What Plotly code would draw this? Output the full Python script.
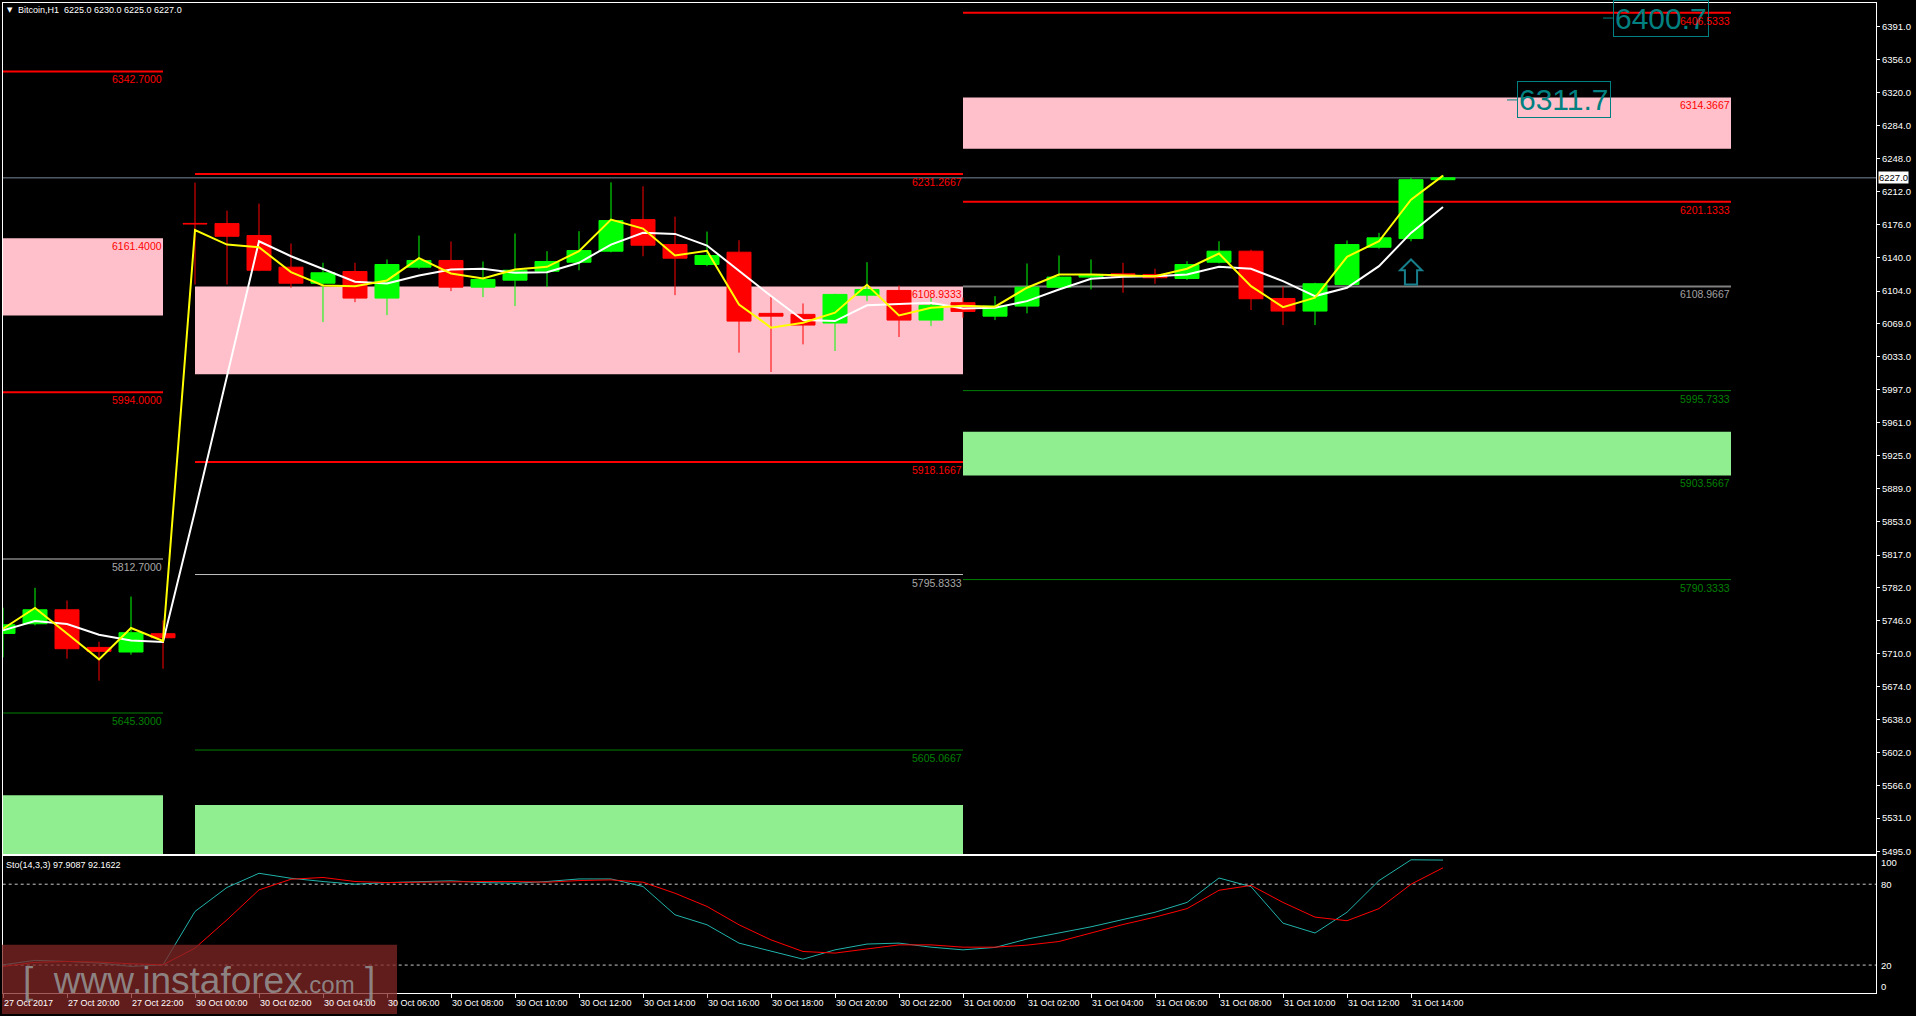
import plotly.graph_objects as go

# ---------------- data ----------------
bar_index = list(range(46))

candle_open = [5731.8, 5742.3, 5757.5, 5716.6, 5711.6, 5731.5, 6177.5, 6177.3, 6164.3, 6129.9,
               6112.5, 6125.2, 6096.3, 6129.9, 6137.2, 6108.2, 6115.8, 6125.5, 6135.3, 6147.3,
               6181.6, 6154.5, 6132.8, 6146.2, 6079.7, 6078.6, 6069.2, 6099.5, 6104.6, 6072.4,
               6091.3, 6076.7, 6087.6, 6108.2, 6119.1, 6122.7, 6122.0, 6117.6, 6135.3, 6147.3,
               6095.9, 6082.2, 6111.1, 6151.6, 6161.0, 6225.0]
candle_high = [5759.7, 5781.4, 5767.6, 5722.8, 5771.9, 5745.9, 6221.8, 6191.4, 6199.0, 6155.6,
               6134.7, 6134.7, 6138.3, 6164.3, 6157.8, 6136.1, 6166.5, 6147.3, 6169.0, 6222.1,
               6217.8, 6184.9, 6168.6, 6159.2, 6098.4, 6090.5, 6101.0, 6135.3, 6110.0, 6097.0,
               6097.0, 6098.4, 6133.9, 6142.6, 6138.3, 6134.7, 6128.2, 6136.4, 6158.1, 6149.0,
               6108.6, 6113.0, 6158.9, 6167.2, 6227.0, 6230.0]
candle_low = [5705.8, 5740.5, 5704.4, 5680.5, 5708.7, 5693.5, 6111.1, 6111.1, 6125.5, 6107.6,
              6070.2, 6091.9, 6077.8, 6128.0, 6103.9, 6097.4, 6087.6, 6108.2, 6126.6, 6146.0,
              6141.8, 6099.5, 6131.0, 6037.0, 6016.0, 6046.0, 6038.8, 6093.0, 6054.0, 6065.9,
              6075.0, 6072.4, 6079.7, 6107.0, 6105.7, 6102.1, 6111.9, 6116.0, 6134.0, 6083.3,
              6067.0, 6067.0, 6110.0, 6150.0, 6158.0, 6225.0]
candle_close = [5741.2, 5757.5, 5715.2, 5712.3, 5732.6, 5727.1, 6177.0, 6163.5, 6126.6, 6112.5,
                6123.8, 6096.3, 6132.8, 6137.2, 6108.2, 6116.6, 6126.6, 6136.1, 6148.0, 6180.6,
                6153.8, 6139.7, 6142.6, 6071.3, 6076.7, 6067.0, 6100.3, 6105.7, 6072.4, 6088.4,
                6081.8, 6087.6, 6108.2, 6119.1, 6122.0, 6120.1, 6118.4, 6132.8, 6147.3, 6095.6,
                6082.2, 6111.9, 6154.5, 6161.8, 6225.0, 6227.0]

ma_fast = [5736.9, 5759.4, 5731.8, 5703.6, 5737.7, 5723.6, 6170.3, 6154.5, 6151.6, 6124.5,
           6110.1, 6109.3, 6115.5, 6139.7, 6123.1, 6117.6, 6127.4, 6130.3, 6147.3, 6181.6,
           6171.9, 6142.6, 6147.7, 6089.4, 6064.2, 6069.6, 6080.4, 6110.8, 6077.5, 6085.9,
           6088.0, 6087.0, 6107.6, 6122.0, 6122.0, 6120.9, 6120.1, 6128.2, 6144.8, 6109.3,
           6086.5, 6096.7, 6141.2, 6158.1, 6203.3, 6229.4]
ma_slow = [5735.1, 5745.2, 5742.0, 5730.4, 5724.2, 5722.5, 5864.9, 6011.3, 6158.1, 6141.8,
           6128.2, 6114.1, 6112.2, 6120.9, 6127.4, 6128.2, 6123.8, 6124.5, 6134.7, 6154.5,
           6167.2, 6166.1, 6153.4, 6125.6, 6098.5, 6072.4, 6071.3, 6088.4, 6090.2, 6091.3,
           6085.1, 6085.9, 6093.0, 6105.7, 6117.3, 6119.5, 6120.1, 6122.0, 6130.3, 6128.2,
           6114.7, 6098.5, 6107.6, 6131.0, 6167.2, 6195.4]

sto_main = [20.2, 23.5, 22.7, 21.5, 19.0, 20.2, 59.8, 77.6, 88.1, 84.4,
            82.0, 80.0, 81.2, 82.0, 82.5, 81.2, 80.7, 82.0, 83.9, 83.9,
            78.3, 57.3, 49.9, 36.3, 30.1, 24.4, 31.3, 35.6, 36.3, 33.3,
            31.3, 33.1, 39.3, 43.8, 48.4, 53.8, 59.2, 66.5, 84.6, 78.2,
            51.1, 43.8, 59.2, 82.7, 98.1, 97.9087]
sto_signal = [19.0, 22.0, 22.7, 22.2, 21.0, 20.2, 32.6, 53.6, 75.8, 83.7,
              85.0, 82.0, 81.2, 81.5, 82.0, 82.0, 82.0, 81.5, 82.7, 83.2,
              81.5, 73.3, 63.5, 49.9, 38.7, 30.1, 28.9, 31.9, 35.0, 35.0,
              33.3, 33.3, 34.8, 37.5, 43.8, 50.1, 55.6, 61.9, 75.5, 79.1,
              66.5, 55.6, 52.9, 61.9, 80.0, 92.1622]
sto_levels = [80, 20]
sto_tick_values = [100, 80, 20, 0]

price_ticks = [6391, 6356, 6320, 6284, 6248, 6212, 6176, 6140, 6104, 6069, 6033, 5997, 5961,
               5925, 5889, 5853, 5817, 5782, 5746, 5710, 5674, 5638, 5602, 5566, 5531, 5495]

time_tick_bars = [0, 2, 4, 6, 8, 10, 12, 14, 16, 18, 20, 22, 24, 26, 28, 30, 32, 34, 36, 38, 40, 42, 44]
time_tick_labels = ["27 Oct 2017", "27 Oct 20:00", "27 Oct 22:00",
                    "30 Oct 00:00", "30 Oct 02:00", "30 Oct 04:00", "30 Oct 06:00", "30 Oct 08:00",
                    "30 Oct 10:00", "30 Oct 12:00", "30 Oct 14:00", "30 Oct 16:00", "30 Oct 18:00",
                    "30 Oct 20:00", "30 Oct 22:00",
                    "31 Oct 00:00", "31 Oct 02:00", "31 Oct 04:00", "31 Oct 06:00", "31 Oct 08:00",
                    "31 Oct 10:00", "31 Oct 12:00", "31 Oct 14:00"]

# section spans (bar index from, to)
section_start = {"L": -19, "M": 6, "R": 30}
section_end = {"L": 5, "M": 30, "R": 54}

level_prices = [6342.7, 5994.0, 5812.7, 5645.3,
                6231.2667, 5918.1667, 5795.8333, 5605.0667,
                6406.5333, 6201.1333, 6108.9667, 5995.7333, 5790.3333]
level_kinds = ["red", "red", "silver", "green",
               "red", "red", "silver", "green",
               "red", "red", "gray", "green", "green"]
level_sections = ["L", "L", "L", "L", "M", "M", "M", "M", "R", "R", "R", "R", "R"]

zone_top = [6161.4, 6108.9333, 6314.3667, 5555.8, 5545.4, 5951.0]
zone_bottom = [6077.5, 6013.5, 6258.7, 5480.0, 5480.0, 5903.5667]
zone_kinds = ["pink", "pink", "pink", "green", "green", "green"]
zone_sections = ["L", "M", "R", "L", "M", "R"]
zone_label_edge = ["top", "top", "top", None, None, "bottom"]

big_label_values = [6400.7, 6311.7]
big_label_bars = [50, 47]

arrow_bar = 44
arrow_tip, arrow_head_base, arrow_bottom = 6138.3, 6126.6, 6111.1

# ---------------- layout geometry ----------------
W, H = 1916, 1016
X_LEFT_PX, X_RIGHT_PX = 2.7, 1876.0
BAR0_PX, BAR_PX = 3.0, 32.0
x_range = [(X_LEFT_PX - BAR0_PX) / BAR_PX, (X_RIGHT_PX - BAR0_PX) / BAR_PX]
x_domain = [X_LEFT_PX / W, X_RIGHT_PX / W]
main_domain = [1 - 856 / H, 1 - 2.7 / H]
sto_domain = [1 - 995 / H, 1 - 858 / H]
main_range = [5491.7, 6417.4]
sto_range = [-0.74, 100.7]

FONT = "Liberation Sans"
line_color = {"red": "#FF0000", "silver": "#C0C0C0", "gray": "#808080", "green": "#008000"}
line_width = {"red": 2, "silver": 1, "gray": 2, "green": 1}
label_color = {"red": "#FF0000", "silver": "#A8A8A8", "gray": "#A0A0A0", "green": "#008000"}
zone_fill = {"pink": "#FFC0CB", "green": "#90EE90"}
zone_label_color = {"pink": "#FF0000", "green": "#008000"}
TEAL = "#008080"

fig = go.Figure()

fig.add_trace(go.Candlestick(
    x=bar_index, open=candle_open, high=candle_high, low=candle_low, close=candle_close,
    increasing=dict(line=dict(color="#00FF00", width=1), fillcolor="#00FF00"),
    decreasing=dict(line=dict(color="#FF0000", width=1), fillcolor="#FF0000"),
    xaxis="x", yaxis="y", hoverinfo="skip", showlegend=False))
fig.add_trace(go.Scatter(x=bar_index, y=ma_slow, mode="lines",
                         line=dict(color="#FFFFFF", width=2), xaxis="x", yaxis="y", hoverinfo="skip"))
fig.add_trace(go.Scatter(x=bar_index, y=ma_fast, mode="lines",
                         line=dict(color="#FFFF00", width=2), xaxis="x", yaxis="y", hoverinfo="skip"))
fig.add_trace(go.Scatter(x=bar_index, y=sto_main, mode="lines",
                         line=dict(color="#20B2AA", width=1), xaxis="x2", yaxis="y2", hoverinfo="skip"))
fig.add_trace(go.Scatter(x=bar_index, y=sto_signal, mode="lines",
                         line=dict(color="#FF0000", width=1), xaxis="x2", yaxis="y2", hoverinfo="skip"))

shapes = []
annotations = []

# zones
for top, bot, kind, sec, edge in zip(zone_top, zone_bottom, zone_kinds, zone_sections, zone_label_edge):
    shapes.append(dict(type="rect", xref="x", yref="y", x0=section_start[sec], x1=section_end[sec],
                       y0=bot, y1=top, fillcolor=zone_fill[kind], line=dict(width=0), layer="below"))
    if edge is not None:
        val = top if edge == "top" else bot
        annotations.append(dict(xref="x", yref="y", x=section_end[sec], y=val, xanchor="right",
                                yanchor="top", yshift=-1, text=f"{val:.4f}", showarrow=False,
                                borderpad=0, font=dict(family=FONT, size=10.5,
                                                       color=zone_label_color[kind])))

# level lines
late_annotations = []
for price, kind, sec in zip(level_prices, level_kinds, level_sections):
    shapes.append(dict(type="line", xref="x", yref="y", x0=section_start[sec], x1=section_end[sec],
                       y0=price, y1=price, line=dict(color=line_color[kind], width=line_width[kind]),
                       layer="below"))
    ann = dict(xref="x", yref="y", x=section_end[sec], y=price, xanchor="right",
               yanchor="top", yshift=-1, text=f"{price:.4f}", showarrow=False,
               borderpad=0, font=dict(family=FONT, size=10.5, color=label_color[kind]))
    # the topmost right-hand label is drawn over the big price box
    if price == max(level_prices):
        late_annotations.append(ann)
    else:
        annotations.append(ann)

# bid line
bid = candle_close[-1]
shapes.append(dict(type="line", xref="paper", yref="y", x0=x_domain[0], x1=x_domain[1],
                   y0=bid, y1=bid, line=dict(color="#778899", width=1), layer="below"))
annotations.append(dict(xref="paper", yref="y", x=(X_RIGHT_PX + 2) / W, y=bid, xanchor="left",
                        yanchor="middle", text=f"{bid:.1f}", showarrow=False, bgcolor="#FFFFFF",
                        borderpad=0, font=dict(family=FONT, size=9.5, color="#000000")))

# big price labels
for val, b in zip(big_label_values, big_label_bars):
    shapes.append(dict(type="line", xref="x", yref="y", x0=b, x1=b + 0.31, y0=val, y1=val,
                       line=dict(color=TEAL, width=1)))
    annotations.append(dict(xref="x", yref="y", x=b + 0.31, y=val, xanchor="left", yanchor="middle",
                            text=f"{val:.1f}", showarrow=False, bordercolor=TEAL, borderwidth=1,
                            borderpad=1, font=dict(family=FONT, size=30, color=TEAL)))
annotations += late_annotations

# up arrow
hw, sw = 0.34, 0.19
ax = arrow_bar
path = (f"M {ax - sw},{arrow_bottom} L {ax + sw},{arrow_bottom} L {ax + sw},{arrow_head_base} "
        f"L {ax + hw},{arrow_head_base} L {ax},{arrow_tip} L {ax - hw},{arrow_head_base} "
        f"L {ax - sw},{arrow_head_base} Z")
shapes.append(dict(type="path", xref="x", yref="y", path=path,
                   line=dict(color="#17808C", width=2), fillcolor="rgba(0,0,0,0)"))

# stochastic levels
for lv in sto_levels:
    shapes.append(dict(type="line", xref="paper", yref="y2", x0=x_domain[0], x1=x_domain[1],
                       y0=lv, y1=lv, line=dict(color="#C8C8C8", width=1, dash="3px,3px"),
                       layer="below"))
sto_label_shift = {100: -5, 80: 0, 20: 0, 0: 6}
for v in sto_tick_values:
    annotations.append(dict(xref="paper", yref="y2", x=(X_RIGHT_PX + 4) / W, y=v, xanchor="left",
                            yanchor="middle", yshift=sto_label_shift[v], text=str(v),
                            showarrow=False, borderpad=0,
                            font=dict(family=FONT, size=9.5, color="#FFFFFF")))

# time labels
for b, lab in zip(time_tick_bars, time_tick_labels):
    annotations.append(dict(xref="x2", yref="paper", x=b, y=1 - 1005 / H, xanchor="left",
                            yanchor="middle", xshift=0, text=lab, showarrow=False, borderpad=0,
                            font=dict(family=FONT, size=9, color="#FFFFFF")))

# header texts
o, h, l, c = candle_open[-1], candle_high[-1], candle_low[-1], candle_close[-1]
annotations.append(dict(xref="paper", yref="paper", x=6 / W, y=1 - 10.5 / H, xanchor="left",
                        yanchor="middle", text="▼", showarrow=False, borderpad=0,
                        font=dict(family="DejaVu Sans", size=7, color="#FFFFFF")))
annotations.append(dict(xref="paper", yref="paper", x=17 / W, y=1 - 10.5 / H, xanchor="left",
                        yanchor="middle",
                        text=f"Bitcoin,H1\u00a0\u00a0{o:.1f} {h:.1f} {l:.1f} {c:.1f}",
                        showarrow=False, borderpad=0,
                        font=dict(family=FONT, size=9, color="#FFFFFF")))
annotations.append(dict(xref="paper", yref="paper", x=5 / W, y=1 - 867 / H, xanchor="left",
                        yanchor="middle",
                        text=f"Sto(14,3,3) {sto_main[-1]:.4f} {sto_signal[-1]:.4f}",
                        showarrow=False, borderpad=0,
                        font=dict(family=FONT, size=9, color="#FFFFFF")))

# watermark
shapes.append(dict(type="rect", xref="paper", yref="paper", x0=2 / W, x1=397 / W, y0=0,
                   y1=1 - 946.7 / H, fillcolor="rgba(130,38,38,0.75)", line=dict(width=0),
                   layer="above"))
annotations.append(dict(xref="paper", yref="paper", x=199 / W, y=1 - 982 / H, xanchor="center",
                        yanchor="middle", showarrow=False, borderpad=0,
                        text="[\u00a0\u00a0www.instaforex<span style='font-size:24px'>.com</span>\u00a0]",
                        font=dict(family=FONT, size=37, color="rgba(150,150,150,0.85)")))

axis_common = dict(showgrid=False, zeroline=False, showline=True, mirror=True,
                   linecolor="#FFFFFF", linewidth=1)

fig.update_layout(
    width=W, height=H, margin=dict(l=0, r=0, t=0, b=0),
    paper_bgcolor="#000000", plot_bgcolor="#000000",
    showlegend=False, hovermode=False, boxgap=0.25, boxgroupgap=0,
    xaxis=dict(domain=x_domain, range=x_range, anchor="y", showticklabels=False, ticks="",
               rangeslider=dict(visible=False), **axis_common),
    yaxis=dict(domain=main_domain, range=main_range, anchor="x", side="right",
               tickvals=price_ticks, ticktext=[f"{v:.1f}" for v in price_ticks],
               ticks="outside", ticklen=3, tickcolor="#FFFFFF",
               tickfont=dict(family=FONT, size=9.5, color="#FFFFFF"), **axis_common),
    xaxis2=dict(domain=x_domain, range=x_range, anchor="y2", showticklabels=False,
                ticks="outside", ticklen=4, tickcolor="#FFFFFF", tickvals=time_tick_bars,
                **axis_common),
    yaxis2=dict(domain=sto_domain, range=sto_range, anchor="x2", side="right",
                showticklabels=False, ticks="", **axis_common),
    shapes=shapes, annotations=annotations,
)

fig.write_html("out.html", config={"displayModeBar": False},
               post_script="document.body.style.margin='0';document.body.style.background='#000';")
